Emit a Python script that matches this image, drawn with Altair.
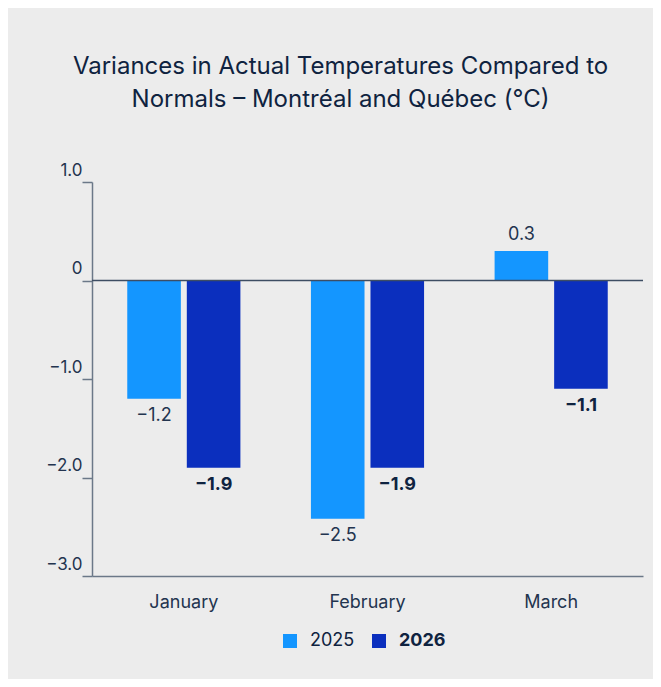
import altair as alt
import pandas as pd

months = ["January", "February", "March"]
years = ["2025", "2026"]
values_2025 = [-1.2, -2.42, 0.3]
values_2026 = [-1.9, -1.9, -1.1]
labels_2025 = ["−1.2", "−2.5", "0.3"]
labels_2026 = ["−1.9", "−1.9", "−1.1"]
y_ticks = [1.0, 0.0, -1.0, -2.0, -3.0]

rows = []
for m, v, l in zip(months, values_2025, labels_2025):
    rows.append({"month": m, "year": "2025", "value": v, "label": l})
for m, v, l in zip(months, values_2026, labels_2026):
    rows.append({"month": m, "year": "2026", "value": v, "label": l})
df = pd.DataFrame(rows)

FONT = "Inter"
DARK = "#0f2340"
TXT = "#23344f"
AXIS = "#6b7888"
C25 = "#1496ff"
C26 = "#0b2fbe"

x = alt.X("month:N", sort=months, title=None,
          scale=alt.Scale(paddingInner=0.384, paddingOuter=0.192),
          axis=alt.Axis(labelAngle=0, ticks=False, domainColor=AXIS, domainWidth=1.5,
                        labelFontSize=18, labelColor=TXT, labelPadding=17,
                        labelFont=FONT))
xo = alt.XOffset("year:N", sort=years, scale=alt.Scale(paddingInner=0.1, paddingOuter=0))
y = alt.Y("value:Q", title=None,
          scale=alt.Scale(domain=[-3, 1], nice=False, zero=False),
          axis=alt.Axis(values=y_ticks, grid=False, domainColor=AXIS, domainWidth=1.5,
                        tickColor=AXIS, tickSize=10, tickWidth=1.5,
                        labelFontSize=17, labelColor=TXT, labelPadding=0,
                        labelBaseline="bottom", labelOffset=-3, labelFont=FONT,
                        labelExpr="datum.value == 0 ? '0' : format(datum.value, '.1f')"))

base = alt.Chart(df)

bars = base.mark_bar().encode(
    x=x, xOffset=xo, y=y,
    color=alt.Color("year:N", sort=years,
                    scale=alt.Scale(domain=years, range=[C25, C26]),
                    legend=alt.Legend(title=None, orient="none", direction="horizontal",
                                      legendX=189, legendY=450,
                                      symbolType="square", symbolSize=196,
                                      symbolStrokeWidth=0, labelFontSize=18,
                                      labelColor=DARK, labelFont=FONT,
                                      labelOffset=11, columnPadding=15,
                                      labelFontWeight={"expr": "datum.label == '2026' ? 'bold' : 'normal'"})),
)

zero = alt.Chart(pd.DataFrame({"z": [0.0]})).mark_rule(color="#3d4d63", strokeWidth=1.5).encode(
    y=alt.Y("z:Q"))


def text_layer(year, positive, weight, color):
    cond = "datum.value >= 0" if positive else "datum.value < 0"
    return base.transform_filter(f"datum.year == '{year}' && {cond}").mark_text(
        font=FONT, fontSize=18, fontWeight=weight, color=color,
        baseline="bottom" if positive else "top",
        dy=-7 if positive else 8,
    ).encode(x=x, xOffset=xo, y=y, text="label:N")


texts = [
    text_layer("2025", False, "normal", TXT),
    text_layer("2025", True, "normal", TXT),
    text_layer("2026", False, "bold", DARK),
    text_layer("2026", True, "bold", DARK),
]

chart = alt.layer(bars, zero, *texts).properties(
    width=551, height=394,
    autosize=alt.AutoSizeParams(type="none"),
    padding={"left": 84, "top": 174, "right": 10, "bottom": 103},
    background="#ececec",
    title=alt.TitleParams(
        ["Variances in Actual Temperatures Compared to",
         "Normals – Montréal and Québec (°C)"],
        font=FONT, fontSize=24, fontWeight="normal", color=DARK,
        anchor="middle", lineHeight=33.5, offset=49, dx=-27,
    ),
).configure_view(stroke=None)

chart.save("out.html", embed_options={"renderer": "svg", "actions": False})
